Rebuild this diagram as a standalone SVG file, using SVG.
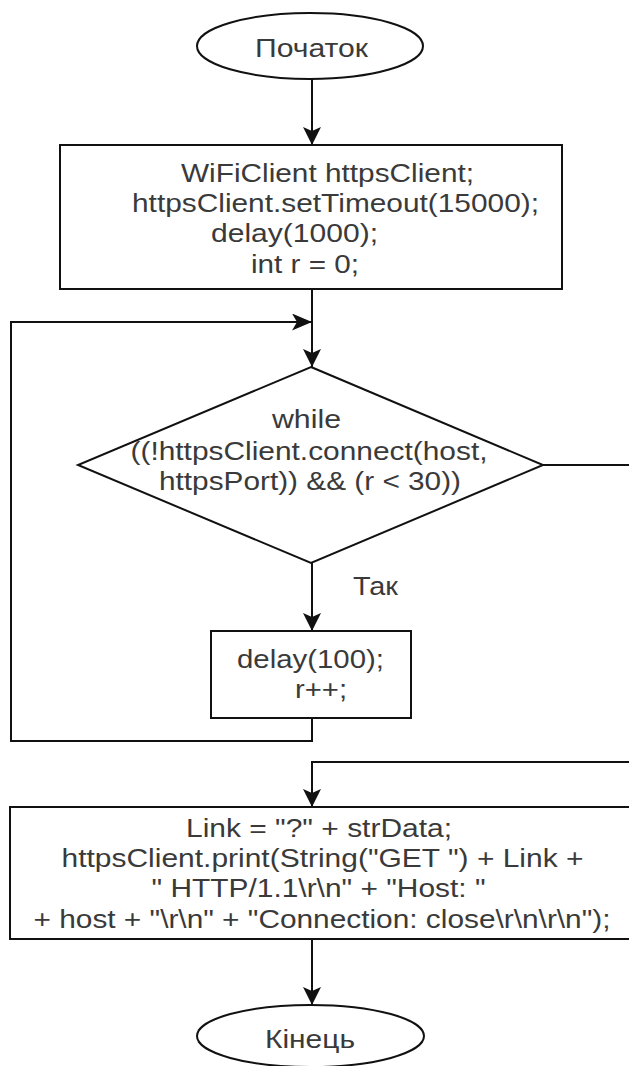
<svg xmlns="http://www.w3.org/2000/svg" width="629" height="1066" viewBox="0 0 629 1066">
  <style>
    .shape { fill: #ffffff; stroke: #111111; stroke-width: 2; }
    .conn { fill: none; stroke: #111111; stroke-width: 2; }
    .txt { font-family: "Liberation Sans", Arial, sans-serif; font-size: 26px; fill: #3a3a3a; text-anchor: middle; }
  </style>
  <defs>
    <marker id="arrowV" viewBox="0 0 18 18" refX="18" refY="9" markerWidth="18" markerHeight="18" markerUnits="userSpaceOnUse" orient="auto">
      <path d="M0,0 L18,9 L0,18 L4,9 Z" fill="#111111"/>
    </marker>
    <marker id="arrowH" viewBox="0 0 20 17" refX="20" refY="8.5" markerWidth="20" markerHeight="17" markerUnits="userSpaceOnUse" orient="auto">
      <path d="M0,0 L20,8.5 L0,17 L5,8.5 Z" fill="#111111"/>
    </marker>
  </defs>

  <g id="connectors">
    <path class="conn" d="M312,79 L312,145" marker-end="url(#arrowV)"/>
    <path class="conn" d="M312,289 L312,367" marker-end="url(#arrowV)"/>
    <path class="conn" d="M312,563 L312,631" marker-end="url(#arrowV)"/>
    <path class="conn" d="M312,718 L312,741 L11,741 L11,322 L312,322" marker-end="url(#arrowH)"/>
    <path class="conn" d="M543,465 L632,465"/>
    <path class="conn" d="M632,762 L312,762 L312,807" marker-end="url(#arrowV)"/>
    <path class="conn" d="M312,939 L312,1005" marker-end="url(#arrowV)"/>
    <text class="txt" x="375.5" y="595" textLength="45" lengthAdjust="spacingAndGlyphs">Так</text>
  </g>

  <g id="start">
    <ellipse class="shape" cx="310" cy="46" rx="113" ry="33"/>
    <text class="txt" x="311.5" y="57" textLength="113" lengthAdjust="spacingAndGlyphs">Початок</text>
  </g>

  <g id="init">
    <rect class="shape" x="60" y="145" width="502" height="144"/>
    <text class="txt" x="327.5" y="182" textLength="293" lengthAdjust="spacingAndGlyphs">WiFiClient httpsClient;</text>
    <text class="txt" x="335.5" y="212" textLength="407" lengthAdjust="spacingAndGlyphs">httpsClient.setTimeout(15000);</text>
    <text class="txt" x="294.5" y="242" textLength="167" lengthAdjust="spacingAndGlyphs">delay(1000);</text>
    <text class="txt" x="305" y="273" textLength="108" lengthAdjust="spacingAndGlyphs">int r = 0;</text>
  </g>

  <g id="condition">
    <polygon class="shape" points="311,367 543,465 311,563 78,465"/>
    <text class="txt" x="306.5" y="428" textLength="69" lengthAdjust="spacingAndGlyphs">while</text>
    <text class="txt" x="309" y="460" textLength="357" lengthAdjust="spacingAndGlyphs">((!httpsClient.connect(host,</text>
    <text class="txt" x="310" y="490" textLength="302" lengthAdjust="spacingAndGlyphs">httpsPort)) &amp;&amp; (r &lt; 30))</text>
  </g>

  <g id="loop-body">
    <rect class="shape" x="211" y="631" width="200" height="87"/>
    <text class="txt" x="310.5" y="668" textLength="147" lengthAdjust="spacingAndGlyphs">delay(100);</text>
    <text class="txt" x="321" y="698" textLength="52" lengthAdjust="spacingAndGlyphs">r++;</text>
  </g>

  <g id="request">
    <rect class="shape" x="10" y="807" width="630" height="132"/>
    <text class="txt" x="319" y="837" textLength="266" lengthAdjust="spacingAndGlyphs">Link = "?" + strData;</text>
    <text class="txt" x="322.5" y="867" textLength="522" lengthAdjust="spacingAndGlyphs">httpsClient.print(String("GET ") + Link +</text>
    <text class="txt" x="318.5" y="897" textLength="334" lengthAdjust="spacingAndGlyphs">" HTTP/1.1\r\n" + "Host: "</text>
    <text class="txt" x="322" y="928" textLength="577" lengthAdjust="spacingAndGlyphs">+ host + "\r\n" + "Connection: close\r\n\r\n");</text>
  </g>

  <g id="end">
    <ellipse class="shape" cx="310.5" cy="1036" rx="113.5" ry="31"/>
    <text class="txt" x="310" y="1048" textLength="90" lengthAdjust="spacingAndGlyphs">Кінець</text>
  </g>
</svg>
